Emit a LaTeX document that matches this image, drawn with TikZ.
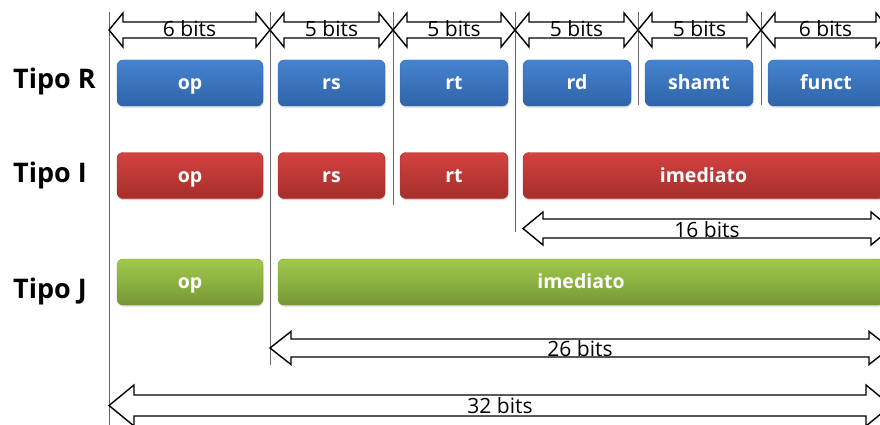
\documentclass[tikz,border=0pt]{standalone}
\usepackage{fontspec}
\setmainfont{Open Sans}
\usepackage{tikz}
\usetikzlibrary{shadows}
\definecolor{blueT}{HTML}{4683CF}
\definecolor{blueB}{HTML}{2F64A9}
\definecolor{redT}{HTML}{D4423F}
\definecolor{redB}{HTML}{A52E2B}
\definecolor{greenT}{HTML}{A0CA4B}
\definecolor{greenB}{HTML}{779737}
\definecolor{rule}{HTML}{666666}
\tikzset{
  field/.style={rounded corners=6pt, minimum height=46pt, inner sep=0pt, line width=0.4pt,
    text=white, font=\fontsize{19.5}{21}\selectfont\bfseries, text height=16pt, text depth=3pt,
    drop shadow={opacity=0.3, shadow xshift=0.6pt, shadow yshift=-1.6pt}},
  rfield/.style={field, top color=blueT, bottom color=blueB, draw=blueB},
  ifield/.style={field, top color=redT, bottom color=redB, draw=redB},
  jfield/.style={field, top color=greenT, bottom color=greenB, draw=greenB},
  tipo/.style={font=\fontsize{27}{30}\selectfont\bfseries, anchor=base west, inner sep=0pt},
  bitslbl/.style={font=\fontsize{21}{23}\selectfont, anchor=base, inner sep=0pt},
  divider/.style={draw=rule, line width=0.9pt},
  bitsarrow/.style={draw=black, fill=white, line width=1.4pt, line join=miter}
}
% #1,#2 tips, #3 axis, #4 half shaft, #5 half head, #6 head length
\newcommand{\bitarrow}[6]{%
  \draw[bitsarrow] (#1,#3) -- ({#1+#6},{#3-#5}) -- ({#1+#6},{#3-#4}) -- ({#2-#6},{#3-#4})
    -- ({#2-#6},{#3-#5}) -- (#2,#3) -- ({#2-#6},{#3+#5}) -- ({#2-#6},{#3+#4})
    -- ({#1+#6},{#3+#4}) -- ({#1+#6},{#3+#5}) -- cycle;}

\begin{document}
\begin{tikzpicture}[x=1pt,y=-1pt]
  \useasboundingbox (0,0) rectangle (880,425);
  \clip (0,0) rectangle (880,425);

  % field borders
  \draw[divider] (109,12) -- (109,425);
  \draw[divider] (270,12) -- (270,365);
  \draw[divider] (393,12) -- (393,205);
  \draw[divider] (515,12) -- (515,232);
  \draw[divider] (638,12) -- (638,105);
  \draw[divider] (761,12) -- (761,105);

  \node[tipo] (tipoR) at (13,89) {Tipo R};
  \node[tipo] (tipoI) at (13,182) {Tipo I};
  \node[tipo] (tipoJ) at (13,298) {Tipo J};

  % tipo R
  \node[rfield, minimum width=146pt] (Rop) at (190,83) {op};
  \node[rfield, minimum width=107pt] (Rrs) at (331.5,83) {rs};
  \node[rfield, minimum width=108pt] (Rrt) at (454,83) {rt};
  \node[rfield, minimum width=108pt] (Rrd) at (577,83) {rd};
  \node[rfield, minimum width=108pt] (Rshamt) at (699,83) {shamt};
  \node[rfield, minimum width=116pt] (Rfunct) at (826,83) {funct};

  % tipo I
  \node[ifield, minimum width=146pt] (Iop) at (190,175.5) {op};
  \node[ifield, minimum width=107pt] (Irs) at (331.5,175.5) {rs};
  \node[ifield, minimum width=108pt] (Irt) at (454,175.5) {rt};
  \node[ifield, minimum width=361pt] (Iimm) at (703.5,175.5) {imediato};

  % tipo J
  \node[jfield, minimum width=146pt] (Jop) at (190,282) {op};
  \node[jfield, minimum width=606pt] (Jimm) at (581,282) {imediato};

  % widths
  \bitarrow{109}{270}{30}{8}{17}{14}
  \bitarrow{270}{393}{30}{8}{17}{14}
  \bitarrow{393}{515}{30}{8}{17}{14}
  \bitarrow{515}{638}{30}{8}{17}{14}
  \bitarrow{638}{761}{30}{8}{17}{14}
  \bitarrow{761}{890}{30}{8}{17}{14}
  \node[bitslbl] (wop) at (189.5,37) {6 bits};
  \node[bitslbl] (wrs) at (331.5,37) {5 bits};
  \node[bitslbl] (wrt) at (454,37) {5 bits};
  \node[bitslbl] (wrd) at (576.5,37) {5 bits};
  \node[bitslbl] (wshamt) at (699.5,37) {5 bits};
  \node[bitslbl] (wfunct) at (825.5,37) {6 bits};

  \bitarrow{523}{891}{228.5}{9.5}{16.5}{20}
  \node[bitslbl] (wimm) at (707,237) {16 bits};

  \bitarrow{270}{890}{348}{9}{16.5}{21}
  \node[bitslbl] (waddr) at (580,356) {26 bits};

  \bitarrow{109}{891}{405.5}{10.5}{20.5}{25}
  \node[bitslbl] (wall) at (500,413) {32 bits};
\end{tikzpicture}
\end{document}
